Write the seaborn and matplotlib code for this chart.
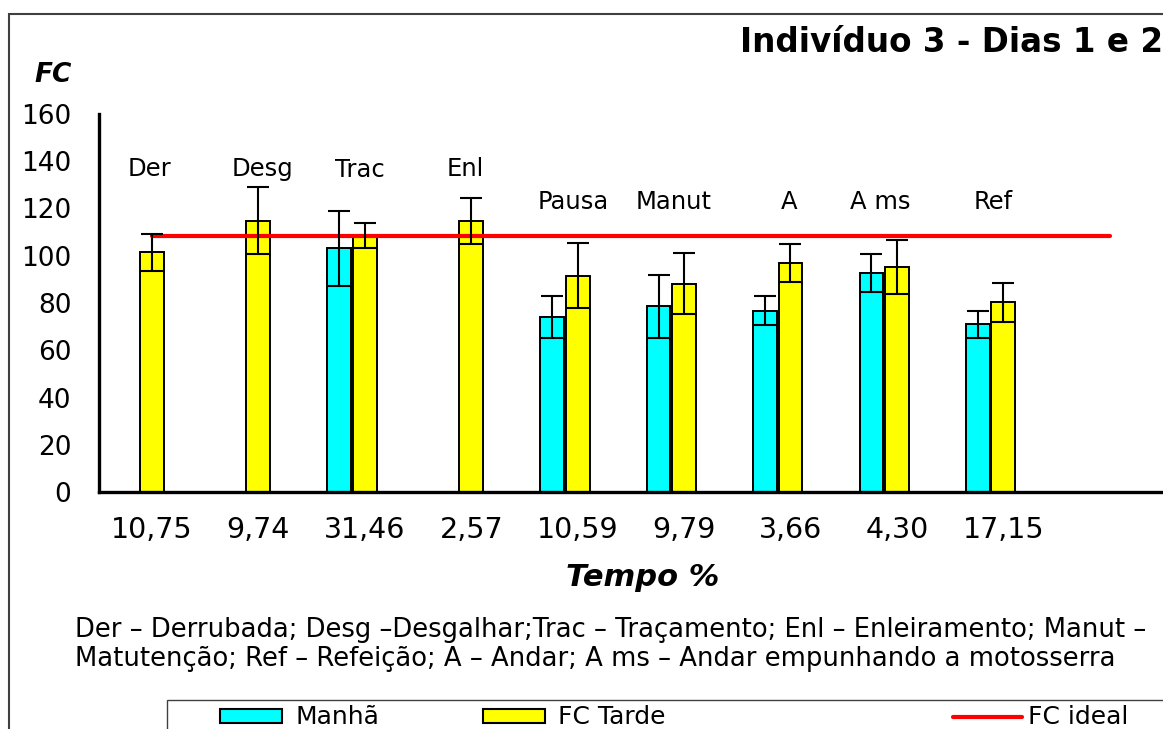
import numpy as np
import pandas as pd
import seaborn as sns
import matplotlib.pyplot as plt
from matplotlib.patches import Patch, Rectangle
from matplotlib.lines import Line2D

# dados
atividades = ['Der', 'Desg', 'Trac', 'Enl', 'Pausa', 'Manut', 'A', 'A ms', 'Ref']
tempo = ['10,75', '9,74', '31,46', '2,57', '10,59', '9,79', '3,66', '4,30', '17,15']
fc_manha = [np.nan, np.nan, 103.1, np.nan, 74.2, 78.6, 76.8, 92.7, 71.0]
erro_manha = [np.nan, np.nan, 15.9, np.nan, 8.8, 13.2, 6.2, 7.9, 5.8]
fc_tarde = [101.4, 114.7, 108.6, 114.7, 91.6, 88.2, 96.9, 95.2, 80.3]
erro_tarde = [7.9, 14.2, 5.4, 9.8, 13.6, 12.9, 7.9, 11.3, 8.2]
fc_ideal = 108.5

nota = ['Der \u2013 Derrubada; Desg \u2013Desgalhar;Trac \u2013 Traçamento; '
        'Enl \u2013 Enleiramento; Manut \u2013',
        'Matutenção; Ref \u2013 Refeição; A \u2013 Andar; A ms \u2013 '
        'Andar empunhando a motosserra']

CIANO, AMARELO, VERMELHO = '#00FFFF', '#FFFF00', '#FF0000'

df = pd.DataFrame({
    'tempo': tempo * 2,
    'periodo': ['Manhã'] * len(tempo) + ['FC Tarde'] * len(tempo),
    'fc': fc_manha + fc_tarde,
    'erro': erro_manha + erro_tarde,
}).dropna()

order = tempo + ['']  # ultima posicao fica vazia, como no original

sns.set_theme(style='white', rc={'axes.edgecolor': 'black', 'xtick.color': 'black',
                                 'ytick.color': 'black', 'text.color': 'black'})
plt.rcParams['font.family'] = ['DejaVu Sans']

W, H = 1163, 729
x0, y0, y160, passo = 98.7, 492.3, 113.7, 107.0
fig = plt.figure(figsize=(W / 100, H / 100), dpi=100)
ax = fig.add_axes([x0 / W, 1 - y0 / H, 1 - x0 / W, (y0 - y160) / H])

# terceira categoria de hue vazia para deslocar a barra da manha para a esquerda
sns.barplot(data=df, x='tempo', y='fc', hue='periodo', order=order,
            hue_order=['Manhã', 'FC Tarde', 'vazio'],
            palette={'Manhã': CIANO, 'FC Tarde': AMARELO, 'vazio': 'white'},
            width=0.72, gap=0.07, saturation=1, errorbar=None,
            edgecolor='black', linewidth=1.4, legend=False, ax=ax, zorder=2)

erros = df.set_index(['tempo', 'periodo'])['erro']
for barra in list(ax.patches):
    xc = barra.get_x() + barra.get_width() / 2
    i = int(round(xc))
    periodo = 'Manhã' if xc < i - 0.1 else 'FC Tarde'
    ax.errorbar(xc, barra.get_height(), yerr=erros[(order[i], periodo)],
                color='black', lw=1.5, capsize=8.2, capthick=1.5, zorder=4)

sns.lineplot(x=np.arange(len(order)), y=[fc_ideal] * len(order),
             color=VERMELHO, lw=3, ax=ax, zorder=3)

ax.set_xlim(-0.5, -0.5 + (W - x0) / passo)
ax.set_ylim(0, 160)
ax.set_yticks(range(0, 161, 20))
ax.set_xticks(np.arange(-0.5, len(order), 1))
ax.set_xticklabels([])
ax.set_xticks(range(len(tempo)), minor=True)
ax.set_xticklabels(tempo, minor=True)
ax.tick_params(axis='x', which='major', direction='out', length=7.5, width=2.2)
ax.tick_params(axis='x', which='minor', length=0, pad=17, labelsize=20.5)
ax.tick_params(axis='y', direction='out', length=8.6, width=2.2, pad=11, labelsize=19)
for s in ['top', 'right']:
    ax.spines[s].set_visible(False)
for s in ['left', 'bottom']:
    ax.spines[s].set_linewidth(2.4)
ax.set_xlabel('')
ax.set_ylabel('')

# rotulos das atividades acima das barras
rotulo_x = [-0.02, 1.04, 1.95, 2.94, 3.96, 4.90, 5.99, 6.84, 7.90]
rotulo_y = [133.7, 133.7, 133.4, 133.7, 119.6, 119.6, 119.6, 119.6, 119.6]
for xt, yt, nome in zip(rotulo_x, rotulo_y, atividades):
    ax.text(xt, yt, nome, ha='center', va='baseline', fontsize=17.5)

fig.text(53 / W, 1 - 82 / H, 'FC', ha='center', va='baseline', fontsize=19,
         fontweight='bold', fontstyle='italic')
fig.text(1.0, 1 - 51.7 / H, 'Indivíduo 3 - Dias 1 e 2', ha='right', va='baseline',
         fontsize=23.5, fontweight='bold')
fig.text(643 / W, 1 - 586 / H, 'Tempo %', ha='center', va='baseline', fontsize=22,
         fontweight='bold', fontstyle='italic')
for linha, yb in zip(nota, [637, 666]):
    fig.text(75 / W, 1 - yb / H, linha, ha='left', va='baseline', fontsize=18.6)

# moldura externa e caixa da legenda (cortadas na borda, como no original)
fig.add_artist(Rectangle((9 / W, -0.1), 1.2, 1 - 14 / H + 0.1, transform=fig.transFigure,
                         fill=False, edgecolor='#404040', lw=1.5))
fig.add_artist(Rectangle((167 / W, -0.1), 1.0, (H - 700) / H + 0.1, transform=fig.transFigure,
                         fill=False, edgecolor='#404040', lw=1.0))

y_leg = 1 - 717.5 / H
itens = [
    (Patch(facecolor=CIANO, edgecolor='black', lw=1.5), 'Manhã', 220, 2.48, 0.52),
    (Patch(facecolor=AMARELO, edgecolor='black', lw=1.5), 'FC Tarde', 483, 2.48, 0.52),
    (Line2D([], [], color=VERMELHO, lw=3), 'FC ideal', 953, 2.76, 0.24),
]
for handle, label, xl, hl, tp in itens:
    fig.legend(handles=[handle], labels=[label], loc='center left',
               bbox_to_anchor=(xl / W, y_leg), frameon=False, fontsize=18,
               handlelength=hl, handleheight=0.48, handletextpad=tp,
               borderpad=0, borderaxespad=0)

fig.savefig('out.png', dpi=100)
